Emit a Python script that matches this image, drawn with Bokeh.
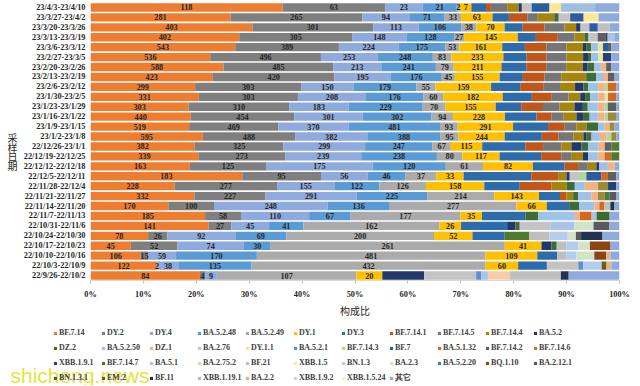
from bokeh.plotting import figure
from bokeh.layouts import column, row
from bokeh.models import (ColumnDataSource, FactorRange, Range1d, Legend, LegendItem,
                          Label, PrintfTickFormatter, FixedTicker)
from bokeh.embed import file_html
from bokeh.resources import INLINE
from bokeh.core.properties import value

# sampling periods, top row first
periods = [
    "23/4/3-23/4/10", "23/3/27-23/4/2", "23/3/20-23/3/26", "23/3/13-23/3/19",
    "23/3/6-23/3/12", "23/2/27-23/3/5", "23/2/20-23/2/26", "23/2/13-23/2/19",
    "23/2/6-23/2/12", "23/1/30-23/2/5", "23/1/23-23/1/29", "23/1/16-23/1/22",
    "23/1/9-23/1/15", "23/1/2-23/1/8", "22/12/26-23/1/1", "22/12/19-22/12/25",
    "22/12/12-22/12/18", "22/12/5-22/12/11", "22/11/28-22/12/4", "22/11/21-22/11/27",
    "22/11/14-22/11/20", "22/11/7-22/11/13", "22/10/31-22/11/6", "22/10/24-22/10/30",
    "22/10/17-22/10/23", "22/10/10-22/10/16", "22/10/3-22/10/9", "22/9/26-22/10/2",
]

categories = [
    "BF.7.14", "DY.2", "DY.4", "BA.5.2.48", "BA.5.2.49", "DY.1", "DY.3", "BF.7.14.1",
    "BF.7.14.5", "BF.7.14.4", "BA.5.2",
    "DZ.2", "BA.5.2.50", "DZ.1", "BA.2.76", "DY.1.1", "BA.5.2.1", "BF.7.14.3", "BF.7",
    "BA.5.1.32", "BF.7.14.2", "BF.7.14.6",
    "XBB.1.9.1", "BF.7.14.7", "BA.5.1", "BA.2.75.2", "BF.21", "XBB.1.5", "BN.1.3",
    "BA.2.3", "BA.5.2.20", "BQ.1.10", "BA.2.12.1",
    "BN.1.3.1", "EM.2", "BF.11", "XBB.1.19.1", "BA.2.2", "XBB.1.9.2", "XBB.1.5.24", "其它",
]

colors = [
    "#ED7D31", "#7F7F7F", "#8FAADC", "#5B9BD5", "#ABABAB", "#FFC000", "#2E6BAA", "#C0561A",
    "#767676", "#A5850C", "#22386A",
    "#3D6B3A", "#9DC3E6", "#F4B183", "#C4C4C4", "#E9E4A0", "#5B8FD0", "#B5D69A", "#2A5C9E",
    "#D2691E", "#5F5F5F", "#9C8A3A",
    "#24407A", "#4F7A32", "#A9C4EA", "#F8CBAD", "#BFBFBF", "#FFE699", "#B4CCEE",
    "#D3E3C6", "#3F7FB5", "#8B4513", "#5A5A5A",
    "#3A6A2E", "#6E5A1E", "#1F3250", "#A0BFE0", "#E2B48A", "#D0D0D0", "#FFF2B3", "#8FAADC",
]

# counts per sampling period
r01 = {"BF.7.14": 118, "DY.2": 63, "DY.4": 23, "BA.5.2.48": 21, "BA.5.2.49": 2, "DY.1": 7,
       "DY.3": 9, "BF.7.14.1": 3, "BF.7.14.5": 10, "BF.7.14.4": 7, "BA.5.2": 2, "BA.2.76": 6,
       "BF.7": 11, "XBB.1.5": 7, "XBB.1.19.1": 21, "其它": 15}
r02 = {"BF.7.14": 281, "DY.2": 265, "DY.4": 94, "BA.5.2.48": 71, "BA.5.2.49": 33, "DY.1": 63,
       "DY.3": 33, "BF.7.14.1": 37, "BF.7.14.5": 21, "BF.7.14.4": 33, "DZ.2": 9, "BA.2.76": 23,
       "BF.7": 27, "XBB.1.5": 30, "其它": 42}
r03 = {"BF.7.14": 403, "DY.2": 301, "DY.4": 113, "BA.5.2.48": 106, "BA.5.2.49": 38, "DY.1": 70,
       "DY.3": 45, "BF.7.14.1": 54, "BF.7.14.5": 50, "BF.7.14.4": 29, "BA.5.2": 11, "BA.2.76": 22,
       "BF.7": 21, "BF.21": 29, "其它": 25}
r04 = {"BF.7.14": 402, "DY.2": 305, "DY.4": 148, "BA.5.2.48": 128, "BA.5.2.49": 27, "DY.1": 145,
       "DY.3": 49, "BF.7.14.1": 59, "BF.7.14.5": 45, "BF.7.14.4": 27, "DZ.2": 11, "BA.2.76": 25,
       "BF.7.14.2": 22, "XBB.1.9.1": 5, "BA.5.1": 18, "其它": 14}
r05 = {"BF.7.14": 543, "DY.2": 389, "DY.4": 224, "BA.5.2.48": 175, "BA.5.2.49": 53, "DY.1": 161,
       "DY.3": 85, "BF.7.14.1": 81, "BF.7.14.5": 75, "BF.7.14.4": 62, "BA.5.2": 12, "DZ.2": 19,
       "BA.5.2.50": 25, "DY.1.1": 19, "BF.7": 19, "BF.7.14.2": 12, "其它": 31}
r06 = {"BF.7.14": 536, "DY.2": 496, "DY.4": 253, "BA.5.2.48": 248, "BA.5.2.49": 83, "DY.1": 233,
       "DY.3": 104, "BF.7.14.1": 89, "BF.7.14.5": 89, "BF.7.14.4": 75, "BA.5.2": 22, "DZ.2": 15,
       "BA.5.2.50": 30, "DY.1.1": 22, "XBB.1.9.1": 37, "其它": 37}
r07 = {"BF.7.14": 588, "DY.2": 485, "DY.4": 213, "BA.5.2.48": 241, "BA.5.2.49": 79, "DY.1": 211,
       "DY.3": 110, "BF.7.14.1": 88, "BF.7.14.5": 88, "BF.7.14.4": 74, "BA.5.2": 19, "DZ.2": 32,
       "BA.5.2.50": 30, "DZ.1": 22, "BF.7.14.2": 22, "其它": 37}
r08 = {"BF.7.14": 423, "DY.2": 420, "DY.4": 195, "BA.5.2.48": 176, "BA.5.2.49": 45, "DY.1": 155,
       "DY.3": 80, "BF.7.14.1": 75, "BF.7.14.5": 58, "BF.7.14.4": 86, "DZ.2": 35,
       "BA.5.2.50": 23, "DZ.1": 17, "BF.7.14.2": 23, "其它": 17}
r09 = {"BF.7.14": 299, "DY.2": 303, "DY.4": 150, "BA.5.2.48": 179, "BA.5.2.49": 55, "DY.1": 159,
       "DY.3": 83, "BF.7.14.1": 66, "BF.7.14.5": 48, "BF.7.14.4": 43, "BA.5.2": 24, "DZ.2": 14,
       "BA.5.2.50": 28, "DZ.1": 19, "BF.7.14.3": 9, "BA.5.1.32": 24, "其它": 9}
r10 = {"BF.7.14": 331, "DY.2": 303, "DY.4": 208, "BA.5.2.48": 176, "BA.5.2.49": 60, "DY.1": 182,
       "DY.3": 89, "BF.7.14.1": 61, "BF.7.14.5": 51, "BF.7.14.4": 36, "BA.5.2": 15, "DZ.2": 15,
       "BA.5.2.50": 25, "DZ.1": 20, "DY.1.1": 10, "BA.5.1.32": 25, "其它": 10}
r11 = {"BF.7.14": 303, "DY.2": 310, "DY.4": 183, "BA.5.2.48": 229, "BA.5.2.49": 70, "DY.1": 155,
       "DY.3": 79, "BF.7.14.1": 67, "BF.7.14.5": 51, "BF.7.14.4": 46, "BA.5.2": 26, "DZ.2": 15,
       "BA.5.2.50": 31, "DZ.1": 21, "BF.7.14.3": 10, "BF.7.14.2": 26, "其它": 10}
r12 = {"BF.7.14": 440, "DY.2": 454, "DY.4": 301, "BA.5.2.48": 302, "BA.5.2.49": 94, "DY.1": 228,
       "DY.3": 139, "BF.7.14.1": 66, "BF.7.14.5": 51, "BF.7.14.4": 58, "BA.5.2": 29, "DZ.2": 29,
       "BA.5.2.50": 36, "DZ.1": 29, "BF.7.14.3": 15, "BF.7.14.6": 36, "其它": 15}
r13 = {"BF.7.14": 519, "DY.2": 469, "DY.4": 370, "BA.5.2.48": 481, "BA.5.2.49": 93, "DY.1": 291,
       "DY.3": 184, "BF.7.14.1": 88, "BF.7.14.5": 61, "BF.7.14.4": 53, "DZ.2": 61,
       "BA.5.2.50": 35, "DZ.1": 26, "BF.7.14.6": 26, "其它": 26}
r14 = {"BF.7.14": 595, "DY.2": 488, "DY.4": 382, "BA.5.2.48": 388, "BA.5.2.49": 95, "DY.1": 244,
       "DY.3": 197, "BF.7.14.1": 88, "BF.7.14.5": 79, "BF.7.14.4": 53, "BA.5.2": 17, "DZ.2": 26,
       "BA.5.2.50": 44, "DZ.1": 35, "BF.7.14.3": 26, "BF.7.14.6": 26, "其它": 17}
r15 = {"BF.7.14": 382, "DY.2": 325, "DY.4": 299, "BA.5.2.48": 247, "BA.5.2.49": 67, "DY.1": 115,
       "DY.3": 158, "BF.7.14.1": 65, "BF.7.14.5": 67, "BF.7.14.4": 37, "BA.5.2": 37, "DZ.2": 24,
       "BA.5.2.50": 37, "DZ.1": 24, "BF.7.14.2": 24, "BF.7.14.7": 30}
r16 = {"BF.7.14": 339, "DY.2": 273, "DY.4": 239, "BA.5.2.48": 238, "BA.5.2.49": 80, "DY.1": 117,
       "DY.3": 131, "BF.7.14.1": 63, "BF.7.14.5": 31, "BF.7.14.4": 37, "BA.5.2": 16,
       "BA.5.2.50": 31, "DZ.1": 21, "BA.5.1.32": 21, "BF.7.14.7": 26}
r17 = {"BF.7.14": 163, "DY.2": 125, "DY.4": 175, "BA.5.2.48": 120, "BA.5.2.49": 61, "DY.1": 82,
       "DY.3": 52, "BF.7.14.1": 22, "BF.7.14.5": 16, "BF.7.14.4": 14, "BA.5.2": 5,
       "BA.5.2.50": 14, "DZ.1": 11, "其它": 8}
r18 = {"BF.7.14": 183, "DY.2": 95, "DY.4": 56, "BA.5.2.48": 46, "BA.5.2.49": 37, "DY.1": 33,
       "DY.3": 82, "BF.7.14.1": 32, "BF.7.14.4": 10, "BA.5.2": 4, "BA.2.76": 10, "BF.7.14.3": 10,
       "BF.7": 18, "BA.5.1.32": 8, "BF.7.14.2": 10, "其它": 4}
r19 = {"BF.7.14": 228, "DY.2": 277, "DY.4": 155, "BA.5.2.48": 122, "BA.5.2.49": 126, "DY.1": 158,
       "DY.3": 96, "BF.7.14.1": 86, "BF.7.14.4": 41, "DZ.2": 22, "BA.5.2.50": 27, "DZ.1": 36,
       "BF.7.14.6": 27, "XBB.1.9.1": 22, "其它": 9}
r20 = {"BF.7.14": 332, "DY.2": 227, "DY.4": 291, "BA.5.2.48": 225, "BA.5.2.49": 214, "DY.1": 143,
       "DY.3": 67, "BF.7.14.1": 21, "BF.7.14.4": 21, "DZ.2": 16, "BA.5.2.50": 42, "DZ.1": 21,
       "BF.7.14.6": 21, "BF.7.14.7": 16, "BA.2.12.1": 21, "其它": 11}
r21 = {"BF.7.14": 170, "DY.2": 100, "DY.4": 248, "BA.5.2.48": 136, "BA.5.2.49": 277, "DY.1": 66,
       "DY.3": 49, "DZ.2": 22, "BA.5.2.50": 33, "DZ.1": 11, "BA.5.1.32": 11, "BF.21": 13,
       "BF.11": 9, "其它": 11}
r22 = {"BF.7.14": 185, "DY.2": 58, "DY.4": 110, "BA.5.2.48": 67, "BA.5.2.49": 177, "DY.1": 35,
       "DY.3": 70, "DZ.2": 21, "BA.5.2.50": 59, "DZ.1": 8, "BA.5.1.32": 19, "BA.5.1": 8,
       "BN.1.3.1": 21, "其它": 16}
r23 = {"BF.7.14": 141, "DY.2": 27, "DY.4": 45, "BA.5.2.48": 41, "BA.5.2.49": 162, "DY.1": 26,
       "DY.3": 55, "BA.5.2": 10, "DZ.2": 5, "BA.2.76": 37, "BA.5.1": 28, "BA.2.3": 23,
       "BA.2.12.1": 19, "其它": 12}
r24 = {"BF.7.14": 78, "DY.2": 26, "DY.4": 92, "BA.5.2.48": 69, "BA.5.2.49": 200, "DY.1": 52,
       "DY.3": 43, "BF.7.14.7": 34, "BF.21": 27, "BN.1.3": 25, "BA.2.3": 11, "BA.2.12.1": 7,
       "BF.11": 29, "其它": 23}
r25 = {"BF.7.14": 45, "DY.2": 52, "DY.4": 74, "BA.5.2.48": 30, "BA.5.2.49": 261, "DY.1": 41,
       "BA.5.2": 11, "DZ.2": 6, "BF.21": 11, "BN.1.3": 13, "BA.2.3": 13, "BQ.1.10": 23, "其它": 10}
r26 = {"BF.7.14": 106, "DY.2": 15, "DY.4": 59, "BA.5.2.48": 170, "BA.5.2.49": 481, "DY.1": 109,
       "DY.3": 42, "BF.21": 19, "BN.1.3": 21, "BA.2.3": 38, "BQ.1.10": 25, "BA.2.2": 9, "其它": 19}
r27 = {"BF.7.14": 122, "DY.2": 2, "DY.4": 38, "BA.5.2.48": 135, "BA.5.2.49": 432, "DY.1": 60,
       "DY.3": 53, "BA.2.76": 58, "BA.5.2.1": 9, "BN.1.3": 34, "EM.2": 9, "BA.2.2": 9, "其它": 15}
r28 = {"BF.7.14": 84, "DY.2": 4, "DY.4": 9, "BA.5.2.48": 0, "BA.5.2.49": 107, "DY.1": 20,
       "BA.5.2": 32, "BA.2.76": 40, "BA.5.2.1": 4, "BA.5.1": 5, "BA.2.75.2": 17, "BF.21": 39,
       "BF.11": 6, "其它": 39}

rows = [r01, r02, r03, r04, r05, r06, r07, r08, r09, r10, r11, r12, r13, r14,
        r15, r16, r17, r18, r19, r20, r21, r22, r23, r24, r25, r26, r27, r28]
labelled = categories[:6]
y_title = "采样日期"

SERIF = "Liberation Serif"
TXT = "#262626"
W = 640
TW = 20      # strip holding the vertical y-axis title
H1 = 320     # chart height
H2 = 65      # legend strip height
FRAME_BOTTOM = 287   # bottom of the bar area

keys = ["c%d" % i for i in range(len(categories))]
data = {"period": periods}
totals = [sum(r.values()) for r in rows]
for k, cat in zip(keys, categories):
    data[k] = [r.get(cat, 0) / t * 100.0 for r, t in zip(rows, totals)]
source = ColumnDataSource(data)

# segment labels for the first six lineages
lx, ly, lt = [], [], []
for r, t, per in zip(rows, totals, periods):
    left = 0.0
    for cat in labelled:
        w = r.get(cat, 0) / t * 100.0
        if r.get(cat, 0) > 0:
            lx.append(left + w / 2.0)
            ly.append(per)
            lt.append(str(r[cat]))
        left += w
lab_src = ColumnDataSource(dict(x=lx, y=ly, t=lt))

# ---------- y-title strip ----------
t = figure(width=TW, height=H1, x_range=Range1d(0, 1), y_range=Range1d(0, 1),
           output_backend="svg", toolbar_location=None, min_border=0,
           x_axis_location=None, y_axis_location=None)
t.grid.visible = False
t.outline_line_color = None
for ch, py in zip(y_title, [129, 139, 148, 157]):
    t.add_layout(Label(x=12, y=FRAME_BOTTOM - py - 15, x_units="screen", y_units="screen",
                       text=ch, text_align="center", text_baseline="middle",
                       text_font="Noto Sans CJK SC", text_font_size="10px", text_color=TXT))

# ---------- main chart ----------
p = figure(width=W - TW, height=H1, y_range=FactorRange(factors=periods[::-1]),
           x_range=Range1d(0, 100), output_backend="svg", toolbar_location=None,
           min_border_left=88 - TW, min_border_right=W - 619, min_border_top=2,
           min_border_bottom=H1 - FRAME_BOTTOM)

p.hbar_stack(keys, y="period", height=0.84, color=colors, line_width=0, source=source)

p.text(x="x", y="y", text="t", source=lab_src, text_align="center", text_baseline="middle",
       text_font=value(SERIF), text_font_style="bold", text_font_size="8.2px", text_color=TXT)

p.xgrid.visible = False
p.ygrid.visible = False
p.outline_line_color = None

p.xaxis.ticker = FixedTicker(ticks=list(range(0, 101, 10)))
p.xaxis.formatter = PrintfTickFormatter(format="%d%%")
p.xaxis.major_label_text_font = SERIF
p.xaxis.major_label_text_font_style = "bold"
p.xaxis.major_label_text_font_size = "8.3px"
p.xaxis.major_label_text_color = TXT
p.xaxis.major_tick_out = 3
p.xaxis.major_tick_in = 0
p.xaxis.minor_tick_out = 0
p.xaxis.minor_tick_in = 0
p.xaxis.major_tick_line_color = "#BFBFBF"
p.xaxis.axis_line_color = "#D9D9D9"
p.xaxis.major_label_standoff = 6
p.xaxis.axis_label = "构成比"
p.xaxis.axis_label_text_font = "Noto Sans CJK SC"
p.xaxis.axis_label_text_font_style = "normal"
p.xaxis.axis_label_text_font_size = "10px"
p.xaxis.axis_label_text_color = TXT
p.xaxis.axis_label_standoff = 1

p.yaxis.major_label_text_font = SERIF
p.yaxis.major_label_text_font_style = "bold"
p.yaxis.major_label_text_font_size = "8.3px"
p.yaxis.major_label_text_color = TXT
p.yaxis.major_tick_out = 0
p.yaxis.major_tick_in = 0
p.yaxis.axis_line_color = None
p.yaxis.major_label_standoff = 5

# ---------- legend strip ----------
lg = figure(width=W, height=H2, x_range=Range1d(0, 1), y_range=Range1d(0, 1),
            output_backend="svg", toolbar_location=None, min_border=0,
            x_axis_location=None, y_axis_location=None)
lg.grid.visible = False
lg.outline_line_color = None
items = []
for cat, col in zip(categories, colors):
    # swatch glyph kept outside the visible range; only its legend entry shows
    rr = lg.hbar(y=[5.0], left=[5.0], right=[6.0], height=0.5, color=col, line_width=0)
    items.append(LegendItem(label=cat, renderers=[rr]))
legend = Legend(items=items, orientation="horizontal", ncols=11, location=(53, 1),
                label_text_font=SERIF, label_text_font_style="bold", label_text_font_size="8px",
                label_text_color="#404040", glyph_width=4, glyph_height=4, label_standoff=2,
                label_width=40, label_height=13, spacing=2, padding=0, margin=0,
                border_line_color=None, background_fill_alpha=0)
lg.add_layout(legend, "center")
lg.add_layout(Label(x=10, y=10, x_units="screen", y_units="screen", text="shicheng.news",
                    text_font="Liberation Sans", text_font_size="21px", text_color="#DCE21E",
                    text_alpha=0.9, text_baseline="alphabetic"))

layout = column(row(t, p, spacing=0), lg, spacing=0)
open("out.html", "w").write(file_html(layout, INLINE))
